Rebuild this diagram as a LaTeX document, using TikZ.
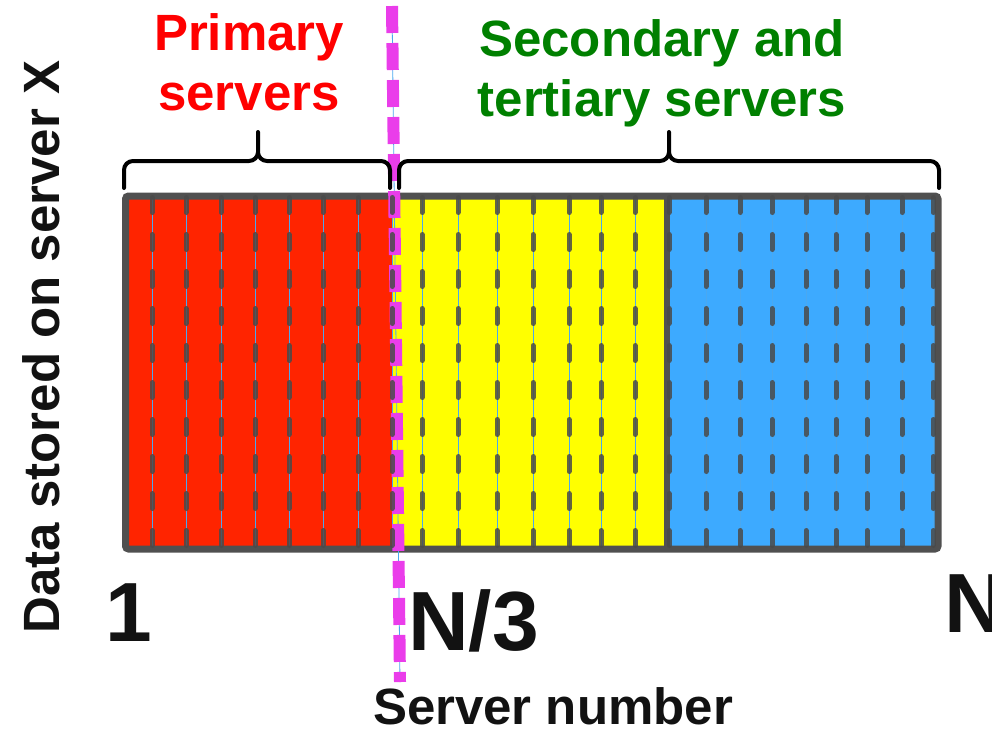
\documentclass[tikz,border=0pt]{standalone}
\usepackage{fontspec}
\setmainfont{Liberation Sans}
\definecolor{primred}{HTML}{FF2400}
\definecolor{secyellow}{HTML}{FFFF00}
\definecolor{terblue}{HTML}{3DAAFF}
\definecolor{framegray}{HTML}{505050}
\definecolor{dashgray}{HTML}{4A4A4A}
\definecolor{stripblue}{HTML}{4AA8F0}
\definecolor{cutpink}{HTML}{EA3DEA}
\definecolor{labgreen}{HTML}{008000}
\begin{document}
\begin{tikzpicture}[x=1pt,y=-1pt,
   every node/.style={inner sep=0pt},
   lab/.style={font=\fontsize{51}{60}\selectfont\bfseries,align=center},
   tick/.style={font=\fontsize{84}{84}\selectfont\bfseries,text=black!93},
   strip/.style={draw=stripblue,line width=0.8},
   gap/.style={draw=dashgray,opacity=0.85,line width=5,line cap=round,dash pattern=on 15 off 22},
   frame/.style={draw=framegray,line width=7,rounded corners=3},
   brc/.style={draw=black,line width=4,line cap=round,rounded corners=9},
   cut/.style={draw=cutpink,line width=12,dash pattern=on 27 off 10}]
\useasboundingbox (0,0) rectangle (992,729);
% blocks
\fill[primred] (125.5,196) rectangle (392,549);
\fill[secyellow] (392,196) rectangle (667,549);
\fill[terblue] (667,196) rectangle (938,549);
\foreach \x in {152,186,221,255,289,323,358,392,422,458,497,533,569,601,635,669,706,740,772,806,836,867,902,933}
  \draw[strip] (\x,196) -- (\x,549);
\draw[framegray,line width=6] (667,196) -- (667,549);
\draw[frame] (125.5,196) rectangle (938,549);
% cut at N/3
\coordinate (cuttop) at (392,6);
\coordinate (cutbot) at (400,682);
\draw[strip] (cuttop) -- (cutbot);
\draw[cut] (cuttop) -- (cutbot);
\foreach \x in {152,186,221,255,289,323,358,392,422,458,497,533,569,601,635,669,706,740,772,806,836,867,902,933}
  \draw[gap] (\x,197.5) -- (\x,549);
% braces
\coordinate (pl) at (124,188);
\coordinate (pr) at (390,188);
\coordinate (ptip) at (258,161);
\coordinate (sl) at (399,188);
\coordinate (sr) at (939,188);
\coordinate (stip) at (669,161);
\draw[brc] (pl) |- (ptip) -- ++(0,-29) (pr) |- (ptip) -- ++(0,-29);
\draw[brc] (sl) |- (stip) -- ++(0,-29) (sr) |- (stip) -- ++(0,-29);
% labels
\node[lab,text=red,anchor=base] (primary) at (249,110) {Primary\\servers};
\node[lab,text=labgreen,anchor=base] (secondary) at (662,116) {Secondary and\\tertiary servers};
\node[lab,text=black!93,rotate=90,anchor=base] (ylabel) at (59,347) {Data stored on server X};
\node[lab,text=black!93,anchor=base] (xlabel) at (553,724) {Server number};
\node[tick,anchor=base] (one) at (129,641) {1};
\node[tick,anchor=base west] (third) at (408,650) {N/3};
\node[tick,anchor=base west] (last) at (944,632) {N};
\end{tikzpicture}
\end{document}
